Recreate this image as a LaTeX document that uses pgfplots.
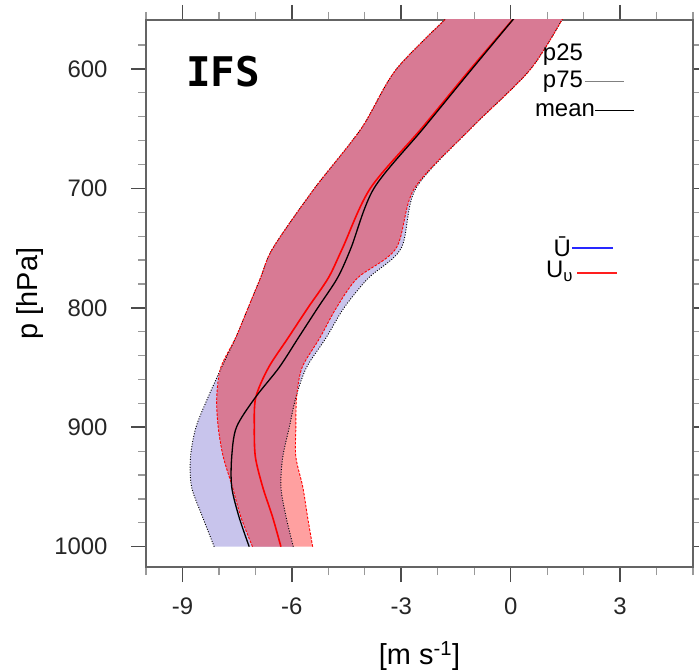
\documentclass[border=0pt]{standalone}
\usepackage{fontspec}
\setmainfont{Liberation Sans}
\newfontfamily\ifsfont{DejaVu Sans Mono}
\usepackage{pgfplots}
\usepackage{pgfplotstable}
\pgfplotsset{compat=1.18}
\usepgfplotslibrary{fillbetween}

\definecolor{lav}{RGB}{200,196,236}
\definecolor{salm}{RGB}{255,160,160}
\definecolor{mauve}{RGB}{216,122,148}
\definecolor{frame}{RGB}{100,100,100}
\definecolor{legred}{RGB}{255,30,30}
\definecolor{legblue}{RGB}{40,40,255}

% pressure profiles: Ubar (ua) and U_v (va), p25 / mean / p75
% lo/hi: overlap of the two bands (max of p25s, min of p75s)
\pgfplotstableread{
p    ua25   uamean ua75   va25   vamean va75   lo     hi
1000 -8.13  -7.17  -5.96  -7.08  -6.30  -5.43  -7.08  -5.96
975  -8.45  -7.45  -6.16  -7.40  -6.53  -5.57  -7.40  -6.16
950  -8.75  -7.65  -6.30  -7.63  -6.80  -5.70  -7.63  -6.30
925  -8.78  -7.65  -6.25  -7.88  -7.00  -5.89  -7.88  -6.25
900  -8.63  -7.52  -6.07  -8.02  -7.03  -5.89  -8.02  -6.07
875  -8.30  -7.00  -5.89  -8.06  -6.99  -5.87  -8.06  -5.89
850  -7.93  -6.35  -5.60  -7.95  -6.64  -5.72  -7.93  -5.72
825  -7.54  -5.82  -5.06  -7.54  -6.10  -5.23  -7.54  -5.23
800  -7.20  -5.29  -4.57  -7.20  -5.56  -4.78  -7.20  -4.78
775  -6.86  -4.75  -3.90  -6.86  -5.00  -4.20  -6.86  -4.20
750  -6.52  -4.38  -3.00  -6.52  -4.61  -3.14  -6.52  -3.14
700  -5.38  -3.75  -2.60  -5.38  -3.85  -2.64  -5.38  -2.64
650  -4.10  -2.40  -1.10  -4.10  -2.45  -1.10  -4.10  -1.10
600  -3.13  -1.06   0.55  -3.13  -1.10   0.55  -3.13   0.55
550  -1.50   0.30   1.57  -1.50   0.30   1.57  -1.50   1.57
}\prof

\begin{document}
\begin{tikzpicture}
\begin{axis}[
  name=ax,
  width=547bp, height=547bp, scale only axis,
  xmin=-10, xmax=5, ymin=559, ymax=1017, y dir=reverse,
  xtick={-9,-6,-3,0,3}, xticklabels={-9,-6,-3,0,3},
  minor xtick={-10,...,5},
  ytick={600,700,...,1000},
  minor ytick={580,600,...,1000},
  tick pos=both, tick align=outside,
  major tick length=15bp, minor tick length=8bp,
  every major tick/.append style={line width=1.6bp, draw=black!70},
  every minor tick/.append style={line width=1.2bp, draw=black!40},
  axis line style={draw=frame, line width=2bp},
  /pgf/number format/assume math mode=true,
  /pgf/number format/1000 sep={},
  ticklabel style={font=\fontsize{24}{24}\selectfont, text=black!85},
  yticklabel style={xshift=-20bp},
  xticklabel style={yshift=-12bp},
  every axis y label/.style={at={(rel axis cs:-0.212,0.5)}, rotate=90, anchor=center,
    font=\fontsize{29}{29}\selectfont},
  every axis x label/.style={at={(rel axis cs:0.5,-0.163)}, anchor=center,
    font=\fontsize{29}{29}\selectfont},
  ylabel={p [hPa]},
  xlabel={[m s\textsuperscript{-1}]},
  no markers,
  every axis plot/.append style={smooth, tension=0.5},
]
% bands
\addplot[draw=none, name path=ua25] table[x=ua25, y=p] {\prof};
\addplot[draw=none, name path=ua75] table[x=ua75, y=p] {\prof};
\addplot[draw=none, name path=va25] table[x=va25, y=p] {\prof};
\addplot[draw=none, name path=va75] table[x=va75, y=p] {\prof};
\addplot[draw=none, name path=lo] table[x=lo, y=p] {\prof};
\addplot[draw=none, name path=hi] table[x=hi, y=p] {\prof};
\addplot[fill=salm, draw=none] fill between[of=va25 and va75];
\addplot[fill=lav, draw=none] fill between[of=ua25 and ua75];
\addplot[fill=mauve, draw=none] fill between[of=lo and hi];
% band edges
\addplot[black, line width=0.9bp, dash pattern=on 1bp off 1.6bp] table[x=ua25, y=p] {\prof};
\addplot[black, line width=0.9bp, dash pattern=on 1bp off 1.6bp] table[x=ua75, y=p] {\prof};
\addplot[red, line width=0.9bp, dash pattern=on 2.5bp off 1.5bp] table[x=va25, y=p] {\prof};
\addplot[red, line width=0.9bp, dash pattern=on 2.5bp off 1.5bp] table[x=va75, y=p] {\prof};
% means
\addplot[red, line width=1.6bp] table[x=vamean, y=p] {\prof};
\addplot[black, line width=1.3bp] table[x=uamean, y=p] {\prof};

% labels and legends
\node[font=\ifsfont\bfseries\fontsize{41}{41}\selectfont] at (rel axis cs:0.141,0.905) {IFS};
\begin{scope}[font=\fontsize{24}{24}\selectfont]
\node[anchor=east, inner sep=0pt] at (rel axis cs:0.799,0.936) {p25};
\node[anchor=east, inner sep=0pt] at (rel axis cs:0.799,0.887) {p75};
\draw[draw=black!50, line width=0.7bp] (rel axis cs:0.803,0.887) -- (rel axis cs:0.874,0.887);
\node[anchor=east, inner sep=0pt] at (rel axis cs:0.821,0.835) {mean};
\draw[draw=black, line width=1.1bp] (rel axis cs:0.821,0.835) -- (rel axis cs:0.892,0.835);
\node[anchor=east, inner sep=0pt] at (rel axis cs:0.777,0.586) {Ū};
\draw[draw=legblue, line width=2bp] (rel axis cs:0.779,0.584) -- (rel axis cs:0.854,0.584);
\node[anchor=east, inner sep=0pt] at (rel axis cs:0.781,0.541) {U\textsubscript{υ}};
\draw[draw=legred, line width=2bp] (rel axis cs:0.788,0.537) -- (rel axis cs:0.861,0.537);
\end{scope}
\end{axis}
\pgfresetboundingbox
\path ([shift={(-146bp,-104bp)}]ax.south west) rectangle ([shift={(6bp,20bp)}]ax.north east);
\end{tikzpicture}
\end{document}
